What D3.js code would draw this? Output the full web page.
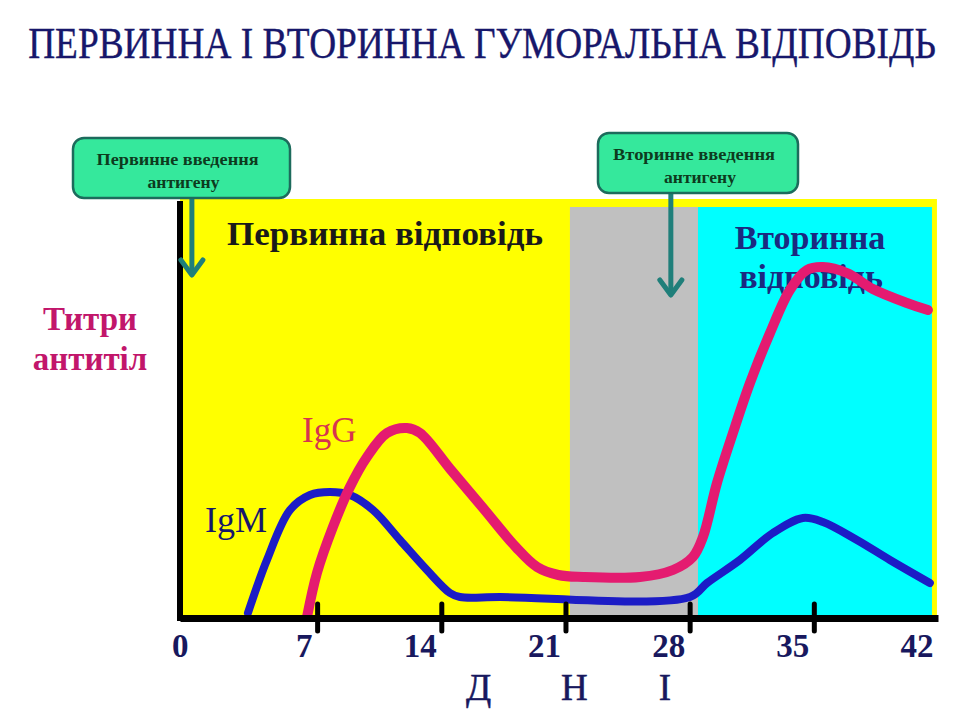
<!DOCTYPE html>
<html><head><meta charset="utf-8">
<script src="https://cdn.jsdelivr.net/npm/d3@7"></script>
<style>
body{margin:0;background:#fff}
svg{display:block}
text{font-family:"Liberation Serif","Times New Roman",serif}
</style>
</head><body>
<svg id="c" width="960" height="720"></svg>
<script>
// ---------- data ----------
const title = "ПЕРВИННА І ВТОРИННА ГУМОРАЛЬНА ВІДПОВІДЬ";
const yLabelLines = ["Титри", "антитіл"];
const dayTicks = [0, 7, 14, 21, 28, 35, 42];
const axisWordLetters = ["Д", "Н", "І"];
const axisWordDays = [16.1, 21.5, 26.6];

const igmDays  = [3.10, 4.17, 5.47, 6.60, 7.72, 8.85, 10.15, 11.67, 13.19, 14.49, 15.05, 17.31, 28.02, 28.98, 30.83, 32.69, 34.39, 35.51, 37.43, 39.29, 41.54];
const igmTiter = [1, 14.25, 26.75, 30.5, 31.25, 30.5, 26.75, 19.25, 11.75, 6, 5, 5, 5, 8.5, 14.25, 21, 24.75, 23.75, 19.25, 14.25, 8.5];

const iggDays  = [6.43, 6.99, 7.89, 8.85, 9.81, 10.94, 12.06, 12.80, 14.5, 16.4, 18.2, 19.4, 20.6, 22.0, 25.20, 27.06, 28.18, 28.75, 29.54, 30.44, 31.40, 32.53, 33.65, 34.61, 35.51, 36.87, 38.33, 40.25, 41.43];
const iggTiter = [0, 11, 22.5, 32.5, 40, 46, 47.25, 46, 37, 27, 17.5, 12.5, 10.5, 10, 10, 11.75, 15, 20, 33.5, 46, 58.5, 71, 81.75, 86.75, 87.5, 86, 82, 78.5, 76.75];

// phases: whole field, latent gap, secondary response
const phaseStart = [-0.73, 21.25, 28.47];
const phaseEnd   = [41.94, 28.47, 41.66];
const phaseTop   = [104.5, 102.5, 102.5];

const injectionLabels = [["Первинне введення", "антигену"], ["Вторинне введення", "антигену"]];
const injectionDays = [-0.06, 26.94];
const injectionArrowTip = [85.5, 80.5];

// ---------- styles ----------
const phaseColors = ["#ffff00", "#c0c0c0", "#00ffff"];
const navy = "#17176b";

const svg = d3.select("#c");
const x = d3.scaleLinear().domain([-0.73, 42]).range([180, 938]);
const y = d3.scaleLinear().domain([0, 100]).range([617, 217]);

// title (condensed by horizontal scaling)
const tt = svg.append("text").attr("text-anchor", "middle")
  .attr("font-size", 45).attr("fill", navy).attr("stroke", navy).attr("stroke-width", 0.4)
  .text(title);
const natural = tt.node().getComputedTextLength();
tt.attr("transform", `translate(482,58) scale(${908 / natural},1)`);

// phase backgrounds
svg.selectAll("rect.phase").data(phaseStart).join("rect").attr("class", "phase")
  .attr("x", (d, i) => x(d))
  .attr("y", (d, i) => y(phaseTop[i]))
  .attr("width", (d, i) => x(phaseEnd[i]) - x(d))
  .attr("height", (d, i) => y(0) - y(phaseTop[i]))
  .attr("fill", (d, i) => phaseColors[i]);

// region labels
svg.append("text").attr("x", 227).attr("y", 245).attr("font-size", 34).attr("font-weight", "bold")
  .attr("fill", "#1a1a1a").attr("textLength", 316).attr("lengthAdjust", "spacingAndGlyphs")
  .text("Первинна відповідь");
const sec = svg.append("text").attr("font-size", 34).attr("font-weight", "bold").attr("fill", "#1b2a80").attr("text-anchor", "middle");
sec.append("tspan").attr("x", 810).attr("y", 249).text("Вторинна");
sec.append("tspan").attr("x", 811).attr("y", 288).text("відповідь");

// y label
svg.selectAll("text.ylab").data(yLabelLines).join("text").attr("class", "ylab")
  .attr("x", 90).attr("y", (d, i) => 330 + i * 40).attr("text-anchor", "middle")
  .attr("font-size", 33).attr("font-weight", "bold").attr("fill", "#c2166b").text(d => d);

// curve labels
svg.append("text").attr("x", 302).attr("y", 442).attr("font-size", 35).attr("fill", "#d6344f").text("IgG");
svg.append("text").attr("x", 205).attr("y", 532).attr("font-size", 36).attr("fill", navy).text("IgM");

// curves
const line = d3.line().x(d => x(d[0])).y(d => y(d[1])).curve(d3.curveCatmullRom.alpha(0.5));
svg.append("path").datum(d3.zip(igmDays, igmTiter)).attr("d", line)
  .attr("fill", "none").attr("stroke", "#1c1cc6").attr("stroke-width", 8)
  .attr("stroke-linecap", "round").attr("stroke-linejoin", "round");
svg.append("path").datum(d3.zip(iggDays, iggTiter)).attr("d", line)
  .attr("fill", "none").attr("stroke", "#e41b70").attr("stroke-width", 10)
  .attr("stroke-linecap", "round").attr("stroke-linejoin", "round");

// y axis line
svg.append("line").attr("x1", x(-0.73)).attr("x2", x(-0.73)).attr("y1", y(0) + 4).attr("y2", y(104))
  .attr("stroke", "#000").attr("stroke-width", 6);

// x axis
const xAxis = d3.axisBottom(x).tickValues(dayTicks).tickSizeOuter(0).tickFormat(d3.format("d"));
const gx = svg.append("g").attr("transform", "translate(0,618)").call(xAxis);
gx.select(".domain").attr("stroke", "#000").attr("stroke-width", 7);
gx.selectAll(".tick line").attr("y1", -14).attr("y2", 13).attr("stroke", "#000").attr("stroke-width", 5)
  .attr("stroke-linecap", "round")
  .attr("display", d => (d === 0 || d === 42) ? "none" : null);
gx.selectAll(".tick text").attr("y", 39).attr("dy", null).attr("x", -5).attr("text-anchor", "end")
  .attr("font-size", 33).attr("font-weight", "bold").attr("fill", "#18185e")
  .attr("font-family", "'Liberation Serif','Times New Roman',serif");

// axis word
svg.selectAll("text.word").data(axisWordLetters).join("text").attr("class", "word")
  .attr("x", (d, i) => x(axisWordDays[i])).attr("y", 700).attr("text-anchor", "middle")
  .attr("font-size", 37).attr("fill", "#18185e").attr("stroke", "#18185e").attr("stroke-width", 0.5).text(d => d);

// injection callouts
const boxes = [{cx: 181.5, top: 138, w: 217, h: 60}, {cx: 698, top: 133, w: 200, h: 60}];
const arrowColor = "#1f7f7a";
injectionDays.forEach((d, i) => {
  const ax = x(d), tip = y(injectionArrowTip[i]), b = boxes[i];
  svg.append("line").attr("x1", ax).attr("x2", ax).attr("y1", b.top + b.h).attr("y2", tip - 2)
    .attr("stroke", arrowColor).attr("stroke-width", 5);
  svg.append("path").attr("d", `M${ax - 11},${tip - 15}L${ax},${tip}L${ax + 11},${tip - 15}`)
    .attr("fill", "none").attr("stroke", arrowColor).attr("stroke-width", 5)
    .attr("stroke-linejoin", "round").attr("stroke-linecap", "round");
  svg.append("rect").attr("x", b.cx - b.w / 2).attr("y", b.top).attr("width", b.w).attr("height", b.h)
    .attr("rx", 11).attr("fill", "#35e89c").attr("stroke", "#1d6b5c").attr("stroke-width", 2.5);
  const t = svg.append("text").attr("text-anchor", "middle").attr("font-size", 17).attr("font-weight", "bold").attr("fill", "#0d3b1e");
  t.append("tspan").attr("x", b.cx - 4).attr("y", b.top + 27).attr("textLength", 162).attr("lengthAdjust", "spacingAndGlyphs").text(injectionLabels[i][0]);
  t.append("tspan").attr("x", b.cx + 2).attr("y", b.top + 50).attr("textLength", 72).attr("lengthAdjust", "spacingAndGlyphs").text(injectionLabels[i][1]);
});
</script>
</body></html>
